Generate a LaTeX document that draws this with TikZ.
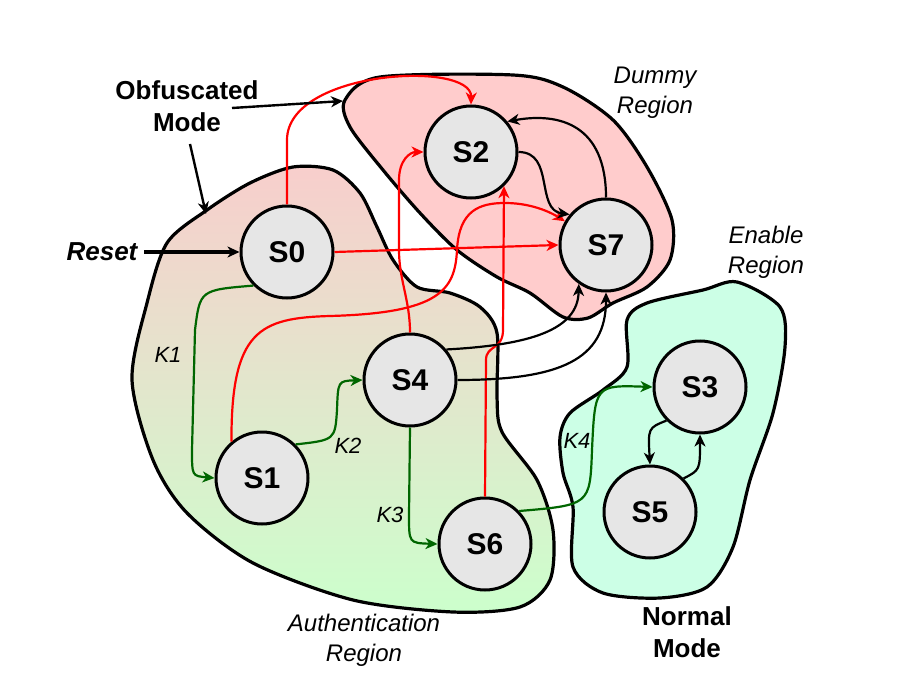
\documentclass[tikz,border=0pt]{standalone}
\usepackage{fontspec}
\setmainfont{Liberation Sans}
\usetikzlibrary{arrows.meta}
\definecolor{stategray}{HTML}{E6E6E6}
\definecolor{dummyfill}{HTML}{FFCCCC}
\definecolor{enablefill}{HTML}{CCFFE6}
\definecolor{authtop}{HTML}{F8CECC}
\definecolor{authbot}{HTML}{CCFFCC}
\definecolor{keygreen}{HTML}{006600}

\begin{document}
\begin{tikzpicture}[x=0.5pt,y=-0.5pt,
  >={Stealth[length=6pt,width=5.5pt,inset=1.8pt]},
  state/.style={circle,draw,line width=1.5pt,fill=stategray,minimum size=46pt,inner sep=0pt,font=\fontsize{15}{17}\selectfont\bfseries},
  region/.style={draw,line width=1.6pt},
  redge/.style={->,red,line width=1.1pt},
  kedge/.style={->,line width=1.1pt},
  gedge/.style={->,keygreen,line width=1.1pt},
  klabel/.style={font=\fontsize{11}{13}\selectfont\itshape},
  rlabel/.style={align=center,font=\fontsize{12}{15}\selectfont\itshape},
  mlabel/.style={align=center,font=\fontsize{13}{16}\selectfont\bfseries}]
\useasboundingbox (0,0) rectangle (920,684);
\draw[region,top color=authtop,bottom color=authbot] plot [smooth cycle] coordinates {(147,303) (167,243) (207,210) (250,183) (293,167) (333,170) (360,193) (377,227) (393,260) (417,287) (450,293) (480,307) (497,333) (497,397) (502,432) (537,480) (553,530) (550,580) (520,607) (453,612) (353,600) (253,563) (187,513) (153,460) (132,380)};
\draw[region,fill=dummyfill] plot [smooth cycle] coordinates {(345,100) (380,77) (513,75) (563,87) (613,120) (647,167) (672,220) (670,260) (647,287) (613,303) (588,318) (563,317) (530,293) (497,277) (457,250) (420,213) (383,170) (350,127)};
\draw[region,fill=enablefill] plot [smooth cycle] coordinates {(737,282) (780,307) (785,347) (773,413) (750,480) (733,547) (707,587) (660,598) (603,593) (573,567) (573,507) (563,473) (560,437) (570,413) (603,390) (627,367) (627,320) (647,303) (703,290)};

\node[state] (s0) at (287,252) {S0};
\node[state] (s2) at (471,152) {S2};
\node[state] (s7) at (606,245) {S7};
\node[state] (s4) at (410,380) {S4};
\node[state] (s1) at (262,478) {S1};
\node[state] (s6) at (485,544) {S6};
\node[state] (s3) at (700,387) {S3};
\node[state] (s5) at (650,512) {S5};

\draw[redge] (s0.north) -- (287,140) .. controls (287,70) and (472,60) .. (s2.north);
\draw[redge] (s0.east) -- (s7.west);
\draw[redge] (s1.130) .. controls (231,330) and (260,318) .. (330,316) .. controls (440,313) and (455,290) .. (457,250) .. controls (459,210) and (480,203) .. (505,203) .. controls (535,203) and (555,215) .. (s7.150);
\draw[redge] (s4.north) .. controls (410,300) and (399,280) .. (399,250) -- (399,180) .. controls (399,160) and (410,152) .. (s2.west);
\draw[redge] (s6.north) -- (486,360) .. controls (486,345) and (503,350) .. (503,330) -- (s2.-46);

\draw[kedge] (s2.east) .. controls (555,152) and (535,210) .. (s7.140);
\draw[kedge] (s7.north) .. controls (606,125) and (560,112) .. (s2.40);
\draw[kedge] (s4.40) .. controls (530,345) and (578,330) .. (s7.235);
\draw[kedge] (s4.east) .. controls (560,380) and (606,360) .. (s7.south);
\draw[kedge] (s3.225) .. controls (648,428) .. (s5.north);
\draw[kedge] (s5.45) .. controls (700,470) .. (s3.south);

\draw[gedge] (s0.225) .. controls (200,290) .. (195,330) -- (192,450) .. controls (192,476) .. (s1.west);
\draw[gedge] (s1.45) .. controls (335,440) .. (337,410) .. controls (338,381) .. (s4.west);
\draw[gedge] (s4.south) -- (409,515) .. controls (409,543) .. (s6.west);
\draw[gedge] (s6.44) .. controls (590,505) .. (592,450) .. controls (595,385) .. (s3.west);

\node[klabel] (k1) at (168,355) {K1};
\node[klabel] (k2) at (348,446) {K2};
\node[klabel] (k3) at (390,515) {K3};
\node[klabel] (k4) at (577,441) {K4};

\node[mlabel] (obf) at (187,106) {Obfuscated\\Mode};
\node[mlabel] (normal) at (687,632) {Normal\\Mode};
\node[rlabel] (dummylbl) at (655,93) {Dummy\\Region};
\node[rlabel] (enablelbl) at (766,252) {Enable\\Region};
\node[rlabel] (authlbl) at (364,640) {Authentication\\Region};
\node[font=\fontsize{13}{16}\selectfont\bfseries\itshape] (reset) at (102,252) {Reset};

\coordinate (obfout) at (232,108);
\coordinate (dumedge) at (343,101);
\coordinate (obfdown) at (190,144);
\coordinate (authedge) at (206,214);
\draw[kedge,line width=1.2pt] (obfout) -- (dumedge);
\draw[kedge,line width=1.2pt] (obfdown) -- (authedge);
\draw[kedge,line width=1.7pt] (reset.east) -- (s0.west);
\end{tikzpicture}
\end{document}
